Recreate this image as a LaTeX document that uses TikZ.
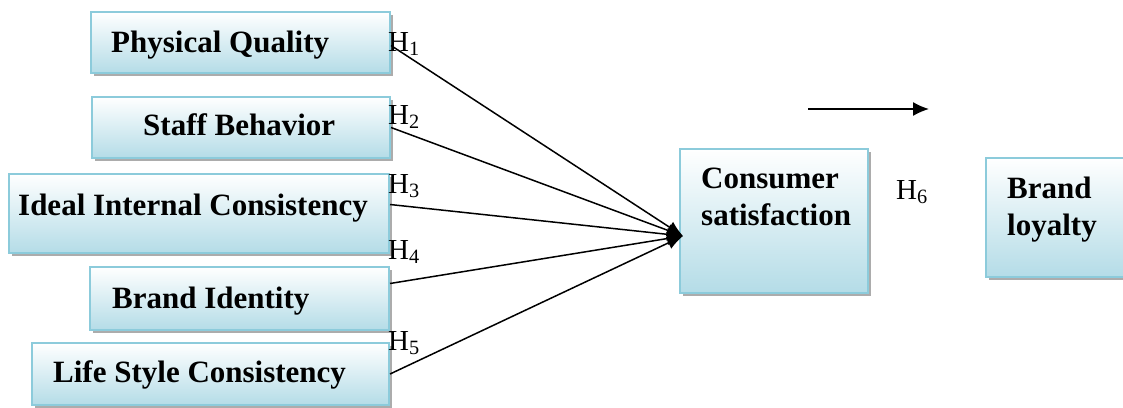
\documentclass[tikz,border=0pt]{standalone}
\usepackage{fontspec}
\setmainfont{Liberation Serif}
\usetikzlibrary{shadows,arrows.meta,calc}
\definecolor{bframe}{RGB}{140,203,219}
\definecolor{bfill}{RGB}{180,220,231}
\begin{document}
\begin{tikzpicture}[x=1pt,y=-1pt,
  boxnode/.style={draw=bframe,line width=2pt,top color=white,bottom color=bfill,
     inner sep=0pt,drop shadow={shadow xshift=3pt,shadow yshift=-3pt,fill=gray!65,opacity=1}},
  boxtext/.style={anchor=base west,inner sep=0pt,font=\fontsize{31}{37}\selectfont\bfseries},
  hlabel/.style={anchor=base west,inner sep=0pt,font=\fontsize{29}{34}\selectfont},
  link/.style={line width=1.5pt,-{Latex[length=16pt,width=13pt]}}]
\useasboundingbox (0,0) rectangle (1123,407);
% boxes
\node[boxnode,minimum width=299pt,minimum height=61pt] (pq) at (240.5,42.5) {};
\node[boxnode,minimum width=298pt,minimum height=61pt] (sb) at (241,127.5) {};
\node[boxnode,minimum width=380pt,minimum height=79pt] (iic) at (199,213.5) {};
\node[boxnode,minimum width=299pt,minimum height=63pt] (bi) at (239.5,298.5) {};
\node[boxnode,minimum width=357pt,minimum height=62pt] (ls) at (210.5,374) {};
\node[boxnode,minimum width=188pt,minimum height=144pt] (cs) at (774,221) {};
\node[boxnode,minimum width=142pt,minimum height=119pt] (bl) at (1057,217.5) {};
% texts
\node[boxtext] (tpq) at (111,52) {Physical Quality};
\node[boxtext] (tsb) at (143,135) {Staff Behavior};
\node[boxtext] (tiic) at (18,215) {Ideal Internal Consistency};
\node[boxtext] (tbi) at (112,308) {Brand Identity};
\node[boxtext] (tls) at (53,382) {Life Style Consistency};
\node[boxtext] (tcs1) at (701,188) {Consumer};
\node[boxtext] (tcs2) at (701,225) {satisfaction};
\node[boxtext] (tbl1) at (1007,198) {Brand};
\node[boxtext] (tbl2) at (1007,235) {loyalty};
% hypothesis labels
\node[hlabel] (h1) at (388,51) {H\textsubscript{1}};
\node[hlabel] (h2) at (388,124) {H\textsubscript{2}};
\node[hlabel] (h3) at (388,193) {H\textsubscript{3}};
\node[hlabel] (h4) at (388,259) {H\textsubscript{4}};
\node[hlabel] (h5) at (388,350) {H\textsubscript{5}};
\node[hlabel] (h6) at (896,199) {H\textsubscript{6}};
% connectors
\coordinate (conv) at (683,236);
\draw[link] ([yshift=-3pt]pq.east) -- (conv);
\draw[link] (sb.east) -- (conv);
\draw[link] ([yshift=9pt]iic.east) -- (conv);
\draw[link] ([yshift=15pt]bi.east) -- (conv);
\draw[link] (ls.east) -- (conv);
\coordinate (a1) at (808,109);
\coordinate (a2) at (929,109);
\draw[line width=1.5pt,-{Latex[length=16pt,width=14pt]}] (a1) -- (a2);
\end{tikzpicture}
\end{document}
